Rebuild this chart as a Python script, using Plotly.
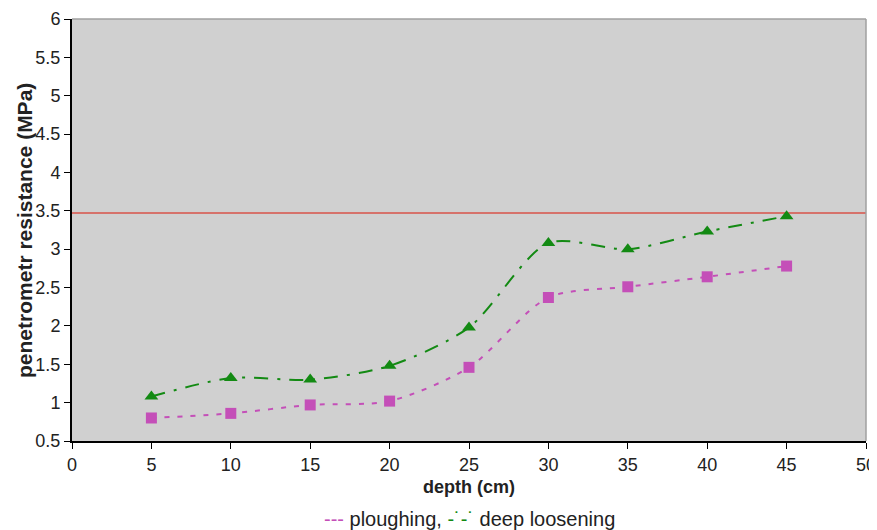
import plotly.graph_objects as go

depth = [5, 10, 15, 20, 25, 30, 35, 40, 45]
ploughing = [0.80, 0.86, 0.97, 1.02, 1.46, 2.37, 2.51, 2.64, 2.78]
deep_loosening = [1.08, 1.32, 1.30, 1.48, 1.98, 3.08, 3.00, 3.23, 3.43]
limit_value = 3.47
x_ticks = [0, 5, 10, 15, 20, 25, 30, 35, 40, 45, 50]
y_ticks = [0.5, 1, 1.5, 2, 2.5, 3, 3.5, 4, 4.5, 5, 5.5, 6]
y_tick_labels = ["0.5", "1", "1.5", "2", "2.5", "3", "3.5", "4", "4.5", "5", "5.5", "6"]

PINK = "#c44fb8"
GREEN = "#138a13"
FONT = "Liberation Sans, Arial, sans-serif"

fig = go.Figure()
fig.add_trace(go.Scatter(
    x=[0, 50], y=[limit_value, limit_value], mode="lines",
    line=dict(color="#d9534a", width=1.5), showlegend=False, hoverinfo="skip"))
fig.add_trace(go.Scatter(
    x=depth, y=ploughing, mode="lines+markers", name="ploughing",
    line=dict(color=PINK, width=2, dash="5px,8px", shape="spline", smoothing=0.8),
    marker=dict(symbol="square", size=11, color=PINK), showlegend=False))
fig.add_trace(go.Scatter(
    x=depth, y=deep_loosening, mode="lines+markers", name="deep loosening",
    line=dict(color=GREEN, width=2, dash="14px,9px,3px,9px", shape="spline", smoothing=0.8),
    marker=dict(symbol="triangle-up", size=12, color=GREEN), showlegend=False))

# page body has an 8px default margin, so the figure is slightly smaller and shifted
fig.update_layout(
    width=869, height=522,
    margin=dict(l=64, r=11, t=11, b=89),
    paper_bgcolor="white", plot_bgcolor="#d0d0d0",
    font=dict(family=FONT, size=18, color="#222"),
    annotations=[
        dict(xref="paper", yref="paper", x=0.5, y=-0.185, yanchor="middle", showarrow=False,
             text=f"<span style='color:{PINK}'>---</span> ploughing, "
                  f"<span style='color:{GREEN}'>-˙-˙</span> deep loosening",
             font=dict(family=FONT, size=20, color="#222")),
        dict(xref="paper", yref="paper", x=0.5, y=-0.109, yanchor="middle", showarrow=False,
             text="<b>depth (cm)</b>", font=dict(family=FONT, size=18, color="#222")),
        dict(xref="paper", yref="paper", x=-0.0605, y=0.5, xanchor="center", yanchor="middle",
             showarrow=False, textangle=-90,
             text="<b>penetrometr resistance (MPa)</b>",
             font=dict(family=FONT, size=21, color="#222")),
    ],
)
fig.update_xaxes(
    range=[0, 50], tickvals=x_ticks, ticks="outside", ticklen=6, tickcolor="black",
    showline=True, linecolor="black", linewidth=2, showgrid=False, zeroline=False,
    automargin=False)
fig.update_yaxes(
    range=[0.5, 6], tickvals=y_ticks, ticktext=y_tick_labels, ticks="outside", ticklen=6,
    tickcolor="black", showline=True, linecolor="black", linewidth=2, showgrid=False,
    zeroline=False, automargin=False)
fig.add_shape(type="line", xref="paper", yref="paper", x0=0, x1=1, y0=1, y1=1,
              line=dict(color="#a0a0a0", width=1.5))
fig.add_shape(type="line", xref="paper", yref="paper", x0=1, x1=1, y0=0, y1=1,
              line=dict(color="#a0a0a0", width=1.5))

fig.write_html("out.html")
